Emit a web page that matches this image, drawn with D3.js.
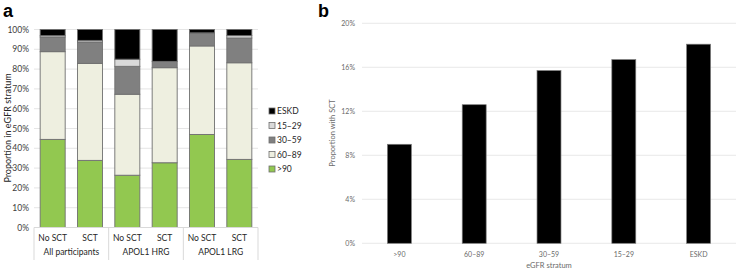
<!DOCTYPE html>
<html lang="en">
<head>
    <meta charset="UTF-8">
    <script src="https://d3js.org/d3.v7.min.js"></script>
    <title>eGFR stratum and SCT</title>
    <style>
        body { margin: 0; background: #fff; }
        svg { display: block; font-family: Lato, "Open Sans", sans-serif; }
    </style>
</head>
<body>
    <div id="chart"></div>
    <script>
        // panel a: stacked proportions (%)
        const subgroups = ["No SCT", "SCT", "No SCT", "SCT", "No SCT", "SCT"];
        const groups = ["All participants", "APOL1 HRG", "APOL1 LRG"];
        const strata = [">90", "60\u201389", "30\u201359", "15\u201329", "ESKD"];
        const gt90 = [44.5, 33.9, 26.4, 32.7, 47.0, 34.4];
        const s6089 = [44.3, 49.0, 40.9, 48.0, 44.7, 48.8];
        const s3059 = [7.4, 10.8, 14.1, 3.2, 6.3, 12.5];
        const s1529 = [0.7, 0.8, 3.6, 0.0, 0.3, 1.2];
        const eskd = [3.1, 5.5, 15.0, 16.1, 1.7, 3.1];
        const colors = ["#92c850", "#eeefe0", "#808080", "#d9d9d9", "#000000"];
        const yTicksA = [0, 10, 20, 30, 40, 50, 60, 70, 80, 90, 100];

        // panel b: proportion with SCT (%)
        const strataB = [">90", "60\u201389", "30\u201359", "15\u201329", "ESKD"];
        const sctShare = [9.0, 12.6, 15.7, 16.7, 18.1];
        const yTicksB = [0, 4, 8, 12, 16, 20];

        const w = 736, h = 270;
        const svg = d3.select("#chart").append("svg")
            .attr("width", w).attr("height", h);

        // ---------- panel a ----------
        const series = [gt90, s6089, s3059, s1529, eskd];
        const rows = subgroups.map((s, i) => {
            const r = { idx: i };
            strata.forEach((k, j) => r[k] = series[j][i]);
            return r;
        });
        const stacked = d3.stack().keys(strata)(rows);

        const xA = d3.scaleBand().domain(d3.range(subgroups.length))
            .range([34, 258]).paddingInner(0.33).paddingOuter(0.165);
        const yA = d3.scaleLinear().domain([0, 100]).range([227.5, 29.5]);

        const ga = svg.append("g");
        ga.selectAll("line.grid").data(yTicksA).enter().append("line")
            .attr("x1", 34).attr("x2", 258)
            .attr("y1", d => yA(d)).attr("y2", d => yA(d))
            .attr("stroke", "#dedede").attr("stroke-width", 0.8);

        ga.selectAll("text.ytick").data(yTicksA).enter().append("text")
            .attr("x", 29).attr("y", d => yA(d) + 3)
            .attr("text-anchor", "end").attr("font-size", "8.5px")
            .attr("fill", "#404040").text(d => d + "%");

        ga.selectAll("g.layer").data(stacked).enter().append("g")
            .attr("fill", (d, i) => colors[i])
            .selectAll("rect").data(d => d).enter().append("rect")
            .attr("x", (d, i) => xA(i))
            .attr("width", xA.bandwidth())
            .attr("y", d => yA(d[1]))
            .attr("height", d => yA(d[0]) - yA(d[1]))
            .attr("stroke", "#6f6f6f").attr("stroke-width", 0.9);

        // category axis
        ga.append("line").attr("x1", 34).attr("x2", 258)
            .attr("y1", 227.5).attr("y2", 227.5).attr("stroke", "#d9d9d9");
        ga.selectAll("line.sep").data(d3.range(groups.length + 1)).enter().append("line")
            .attr("x1", d => 34 + d * (224 / groups.length))
            .attr("x2", d => 34 + d * (224 / groups.length))
            .attr("y1", 227.5).attr("y2", 260)
            .attr("stroke", "#d9d9d9");
        ga.selectAll("text.sub").data(subgroups).enter().append("text")
            .attr("x", (d, i) => xA(i) + xA.bandwidth() / 2).attr("y", 241)
            .attr("text-anchor", "middle").attr("font-size", "8.5px")
            .attr("fill", "#262626").text(d => d);
        ga.selectAll("text.grp").data(groups).enter().append("text")
            .attr("x", (d, i) => 34 + (i + 0.5) * (224 / groups.length)).attr("y", 255)
            .attr("text-anchor", "middle").attr("font-size", "8.5px")
            .attr("fill", "#262626").text(d => d);

        ga.append("text")
            .attr("transform", "translate(11,128) rotate(-90)")
            .attr("text-anchor", "middle").attr("font-size", "9px")
            .attr("fill", "#262626").text("Proportion in eGFR stratum");

        // legend (reverse order)
        const legend = ga.selectAll("g.leg").data(strata.slice().reverse()).enter().append("g")
            .attr("transform", (d, i) => `translate(269,${108 + i * 14.5})`);
        legend.append("rect").attr("width", 6).attr("height", 6)
            .attr("fill", d => colors[strata.indexOf(d)])
            .attr("stroke", "#6f6f6f").attr("stroke-width", 0.8);
        legend.append("text").attr("x", 8).attr("y", 6)
            .attr("font-size", "8.5px").attr("fill", "#262626").text(d => d);

        svg.append("text").attr("x", 3).attr("y", 17)
            .attr("font-size", "18px").attr("font-weight", "bold")
            .attr("font-family", "Liberation Sans, Arial, sans-serif").text("a");

        // ---------- panel b ----------
        const xB = d3.scaleBand().domain(strataB).range([362, 736]).padding(0.68);
        xB.paddingOuter(0.34);
        const yB = d3.scaleLinear().domain([0, 20]).range([243.3, 23.3]);

        const gb = svg.append("g");
        gb.selectAll("line.grid").data(yTicksB).enter().append("line")
            .attr("x1", 362).attr("x2", 736)
            .attr("y1", d => yB(d)).attr("y2", d => yB(d))
            .attr("stroke", "#e2e2e2").attr("stroke-width", 0.8);
        gb.selectAll("text.ytick").data(yTicksB).enter().append("text")
            .attr("x", 355).attr("y", d => yB(d) + 2.5)
            .attr("text-anchor", "end").attr("font-size", "7px")
            .attr("fill", "#6a6a6a").text(d => d + "%");

        gb.selectAll("rect").data(sctShare).enter().append("rect")
            .attr("x", (d, i) => xB(strataB[i]))
            .attr("width", xB.bandwidth())
            .attr("y", d => yB(d))
            .attr("height", d => yB(0) - yB(d))
            .attr("fill", "#000").attr("stroke", "#7a7a7a").attr("stroke-width", 0.7);

        gb.selectAll("text.xtick").data(strataB).enter().append("text")
            .attr("x", d => xB(d) + xB.bandwidth() / 2).attr("y", 257)
            .attr("text-anchor", "middle").attr("font-size", "7px")
            .attr("fill", "#6a6a6a").text(d => d);

        gb.append("text").attr("x", 549).attr("y", 268)
            .attr("text-anchor", "middle").attr("font-size", "7.5px")
            .attr("fill", "#6a6a6a").text("eGFR stratum");
        gb.append("text")
            .attr("transform", "translate(335,133) rotate(-90)")
            .attr("text-anchor", "middle").attr("font-size", "7.5px")
            .attr("fill", "#6a6a6a").text("Proportion with SCT");

        svg.append("text").attr("x", 318).attr("y", 17)
            .attr("font-size", "18px").attr("font-weight", "bold")
            .attr("font-family", "Liberation Sans, Arial, sans-serif").text("b");
    </script>
</body>
</html>
